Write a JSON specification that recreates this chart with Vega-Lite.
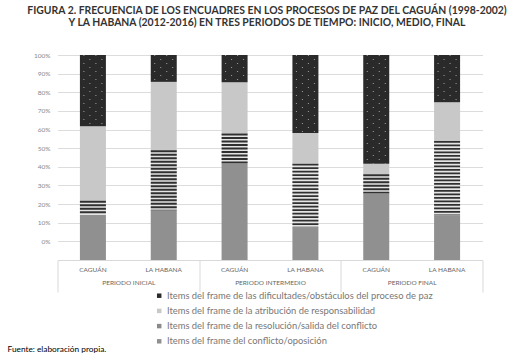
{
  "$schema": "https://vega.github.io/schema/vega-lite/v6.json",
  "width": 425,
  "height": 205,
  "autosize": {"type": "none"},
  "padding": {"left": 57.5, "top": 55, "right": 29.5, "bottom": 97},
  "background": "white",
  "config": {"view": {"stroke": null}, "font": "Lato"},
  "title": {
    "text": ["FIGURA 2. FRECUENCIA DE LOS ENCUADRES EN LOS PROCESOS DE PAZ DEL CAGUÁN (1998-2002)", "Y LA HABANA (2012-2016) EN TRES PERIODOS DE TIEMPO: INICIO, MEDIO, FINAL"],
    "font": "Lato",
    "fontSize": 10.4,
    "fontWeight": "bold",
    "color": "#333333",
    "anchor": "middle",
    "frame": "group",
    "dx": -3,
    "offset": 24,
    "lineHeight": 12
  },
  "data": {
    "values": [
      {"periodo": "PERIODO INICIAL", "proceso": "CAGUÁN", "frame": "Items del frame del conflicto/oposición", "valor": 22.1},
      {"periodo": "PERIODO INICIAL", "proceso": "CAGUÁN", "frame": "Items del frame de la resolución/salida del conflicto", "valor": 6.8},
      {"periodo": "PERIODO INICIAL", "proceso": "CAGUÁN", "frame": "Items del frame de la atribución de responsabilidad", "valor": 36.4},
      {"periodo": "PERIODO INICIAL", "proceso": "CAGUÁN", "frame": "Items del frame de las dificultades/obstáculos del proceso de paz", "valor": 34.7},
      {"periodo": "PERIODO INICIAL", "proceso": "LA HABANA", "frame": "Items del frame del conflicto/oposición", "valor": 24.2},
      {"periodo": "PERIODO INICIAL", "proceso": "LA HABANA", "frame": "Items del frame de la resolución/salida del conflicto", "valor": 29.3},
      {"periodo": "PERIODO INICIAL", "proceso": "LA HABANA", "frame": "Items del frame de la atribución de responsabilidad", "valor": 33.4},
      {"periodo": "PERIODO INICIAL", "proceso": "LA HABANA", "frame": "Items del frame de las dificultades/obstáculos del proceso de paz", "valor": 13.1},
      {"periodo": "PERIODO INTERMEDIO", "proceso": "CAGUÁN", "frame": "Items del frame del conflicto/oposición", "valor": 47.0},
      {"periodo": "PERIODO INTERMEDIO", "proceso": "CAGUÁN", "frame": "Items del frame de la resolución/salida del conflicto", "valor": 14.7},
      {"periodo": "PERIODO INTERMEDIO", "proceso": "CAGUÁN", "frame": "Items del frame de la atribución de responsabilidad", "valor": 25.0},
      {"periodo": "PERIODO INTERMEDIO", "proceso": "CAGUÁN", "frame": "Items del frame de las dificultades/obstáculos del proceso de paz", "valor": 13.3},
      {"periodo": "PERIODO INTERMEDIO", "proceso": "LA HABANA", "frame": "Items del frame del conflicto/oposición", "valor": 16.0},
      {"periodo": "PERIODO INTERMEDIO", "proceso": "LA HABANA", "frame": "Items del frame de la resolución/salida del conflicto", "valor": 31.0},
      {"periodo": "PERIODO INTERMEDIO", "proceso": "LA HABANA", "frame": "Items del frame de la atribución de responsabilidad", "valor": 15.0},
      {"periodo": "PERIODO INTERMEDIO", "proceso": "LA HABANA", "frame": "Items del frame de las dificultades/obstáculos del proceso de paz", "valor": 38.0},
      {"periodo": "PERIODO FINAL", "proceso": "CAGUÁN", "frame": "Items del frame del conflicto/oposición", "valor": 32.4},
      {"periodo": "PERIODO FINAL", "proceso": "CAGUÁN", "frame": "Items del frame de la resolución/salida del conflicto", "valor": 9.4},
      {"periodo": "PERIODO FINAL", "proceso": "CAGUÁN", "frame": "Items del frame de la atribución de responsabilidad", "valor": 5.2},
      {"periodo": "PERIODO FINAL", "proceso": "CAGUÁN", "frame": "Items del frame de las dificultades/obstáculos del proceso de paz", "valor": 53.0},
      {"periodo": "PERIODO FINAL", "proceso": "LA HABANA", "frame": "Items del frame del conflicto/oposición", "valor": 21.8},
      {"periodo": "PERIODO FINAL", "proceso": "LA HABANA", "frame": "Items del frame de la resolución/salida del conflicto", "valor": 36.3},
      {"periodo": "PERIODO FINAL", "proceso": "LA HABANA", "frame": "Items del frame de la atribución de responsabilidad", "valor": 18.8},
      {"periodo": "PERIODO FINAL", "proceso": "LA HABANA", "frame": "Items del frame de las dificultades/obstáculos del proceso de paz", "valor": 23.1}
    ]
  },
  "transform": [
    {"calculate": "datum.periodo + '|' + datum.proceso", "as": "barra"},
    {"calculate": "indexof(['Items del frame del conflicto/oposición','Items del frame de la resolución/salida del conflicto','Items del frame de la atribución de responsabilidad','Items del frame de las dificultades/obstáculos del proceso de paz'], datum.frame)", "as": "orden"},
    {"stack": "valor", "groupby": ["barra"], "sort": [{"field": "orden", "order": "ascending"}], "as": ["y0", "y1"]}
  ],
  "layer": [
    {
      "mark": {"type": "tick", "opacity": 0},
      "encoding": {
        "x": {
          "field": "periodo",
          "type": "nominal",
          "scale": {"domain": ["PERIODO INICIAL", "PERIODO INTERMEDIO", "PERIODO FINAL"], "paddingInner": 0, "paddingOuter": 0},
          "axis": {
            "orient": "bottom",
            "tickBand": "extent",
            "ticks": true,
            "tickSize": 32,
            "tickColor": "#d9d9d9",
            "domain": false,
            "labelPadding": -12.5,
            "labelFontSize": 6.5,
            "labelColor": "#666666",
            "labelFont": "Lato",
            "labelAngle": 0,
            "title": "Fuente: elaboración propia.",
            "titleX": -50.5,
            "titleY": 89,
            "titleAnchor": "start",
            "titleAlign": "left",
            "titleBaseline": "middle",
            "titleFontSize": 8.3,
            "titleFontWeight": "normal",
            "titleColor": "#000000",
            "titleFont": "Lato"
          }
        },
        "y": {
          "field": "y1",
          "type": "quantitative",
          "scale": {"domain": [-10, 100], "nice": false, "zero": false},
          "axis": {
            "values": [0, 10, 20, 30, 40, 50, 60, 70, 80, 90, 100],
            "labelExpr": "datum.value + '%'",
            "ticks": false,
            "domain": false,
            "grid": true,
            "gridColor": "#dcdcdc",
            "gridWidth": 1,
            "labelPadding": 7.5,
            "labelFontSize": 6.5,
            "labelColor": "#888888",
            "labelFont": "Lato",
            "title": null
          }
        }
      }
    },
    {
      "encoding": {
        "x": {
          "field": "barra",
          "type": "nominal",
          "scale": {
            "domain": ["PERIODO INICIAL|CAGUÁN", "PERIODO INICIAL|LA HABANA", "PERIODO INTERMEDIO|CAGUÁN", "PERIODO INTERMEDIO|LA HABANA", "PERIODO FINAL|CAGUÁN", "PERIODO FINAL|LA HABANA"],
            "paddingInner": 0.633,
            "paddingOuter": 0.3165
          },
          "axis": {
            "orient": "bottom",
            "labelExpr": "split(datum.label, '|')[1]",
            "ticks": false,
            "domain": true,
            "domainColor": "#d9d9d9",
            "labelPadding": 6.5,
            "labelFontSize": 6.5,
            "labelColor": "#666666",
            "labelFont": "Lato",
            "labelAngle": 0,
            "title": null
          }
        },
        "y": {
          "field": "y1",
          "type": "quantitative",
          "scale": {"domain": [0, 100], "nice": false},
          "axis": null
        },
        "y2": {"field": "y0"}
      },
      "layer": [
        {
          "mark": {"type": "bar", "strokeWidth": 0},
          "encoding": {
            "fill": {
              "field": "frame",
              "type": "nominal",
              "condition": {"test": "datum.orden === 1", "value": "#e4e4e4"},
              "scale": {
                "domain": ["Items del frame de las dificultades/obstáculos del proceso de paz", "Items del frame de la atribución de responsabilidad", "Items del frame de la resolución/salida del conflicto", "Items del frame del conflicto/oposición"],
                "range": ["#2a2a2a", "#c8c8c8", "#8a8a8a", "#909090"]
              },
              "legend": {
                "orient": "none",
                "legendX": 97,
                "legendY": 236,
                "direction": "vertical",
                "title": null,
                "symbolType": "square",
                "symbolSize": 20,
                "symbolStrokeWidth": 0,
                "labelFontSize": 9.4,
                "labelColor": "#777777",
                "labelFont": "Lato",
                "labelLimit": 400,
                "rowPadding": 4.2,
                "labelOffset": 3
              }
            }
          }
        },
        {
          "transform": [{"filter": "datum.orden === 1"}],
          "mark": {"type": "rule", "strokeWidth": 26, "strokeCap": "butt", "strokeDash": [1.9, 1.6], "color": "#303030"},
          "encoding": {}
        },
        {
          "transform": [{"filter": "datum.orden === 3"}],
          "mark": {"type": "rule", "strokeWidth": 1, "strokeCap": "butt", "strokeDash": [1, 7], "color": "#a0a0a0", "xOffset": -9},
          "encoding": {}
        },
        {
          "transform": [{"filter": "datum.orden === 3"}],
          "mark": {"type": "rule", "strokeWidth": 1, "strokeCap": "butt", "strokeDash": [1, 7], "strokeDashOffset": 4, "color": "#a0a0a0", "xOffset": -3},
          "encoding": {}
        },
        {
          "transform": [{"filter": "datum.orden === 3"}],
          "mark": {"type": "rule", "strokeWidth": 1, "strokeCap": "butt", "strokeDash": [1, 7], "color": "#a0a0a0", "xOffset": 3},
          "encoding": {}
        },
        {
          "transform": [{"filter": "datum.orden === 3"}],
          "mark": {"type": "rule", "strokeWidth": 1, "strokeCap": "butt", "strokeDash": [1, 7], "strokeDashOffset": 4, "color": "#a0a0a0", "xOffset": 9},
          "encoding": {}
        }
      ]
    }
  ],
  "resolve": {"scale": {"x": "independent", "y": "independent"}}
}
